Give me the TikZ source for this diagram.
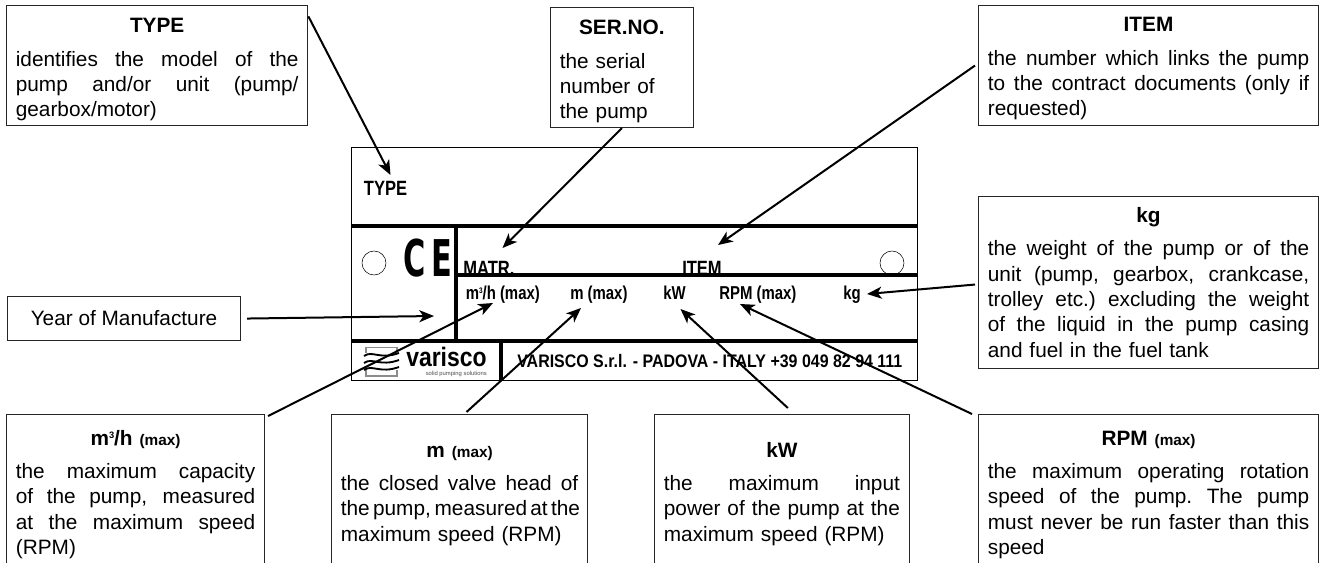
\documentclass[tikz,border=0pt]{standalone}
\usepackage{fontspec}
\setmainfont{Liberation Sans}
\newfontfamily\platefont[FakeStretch=0.8]{Liberation Sans}
\newfontfamily\footfont[FakeStretch=0.88]{Liberation Sans}
\newfontfamily\markfont{DejaVu Sans}
\usetikzlibrary{arrows.meta,positioning}
\tikzset{
  callout/.style={draw=black!85,line width=0.8pt,inner sep=0pt,inner xsep=7pt,text width=#1,align=left,
    font=\fontsize{15.6}{19}\selectfont,anchor=north west},
  pointer/.style={-{Stealth[length=11pt,width=9pt,inset=3pt]},line width=1.5pt},
  platerule/.style={line width=2.4pt},
  platelabel/.style={font=\platefont\bfseries\fontsize{14}{16}\selectfont,inner sep=0pt},
  bigplatelabel/.style={font=\platefont\bfseries\fontsize{15.5}{17}\selectfont,inner sep=0pt},
}
\newcommand{\boxtitle}[2][0pt]{\hbox to\hsize{\vrule height#1 width0pt\hfil\bfseries #2\hfil}\par\vspace{6pt}}
\newcommand{\fl}[1]{\hbox to\hsize{\spaceskip=.278em plus 2em minus .12em\xspaceskip=\spaceskip #1}\par}
\newcommand{\maxmark}{{\fontsize{11.5}{13}\selectfont\ (max)}}
\begin{document}
\begin{tikzpicture}[x=0.75pt,y=-0.75pt,line cap=butt,line join=miter]
  \clip (0,0) rectangle (1325,562);
  % rating plate
  \draw[line width=0.7pt] (351,147) rectangle (917,380);
  \draw (374,263) circle (12);
  \draw (892,263) circle (12);
  \draw[platerule] (351,226) -- (917,226);
  \draw[platerule] (456,275) -- (917,275);
  \draw[platerule] (351,341) -- (917,341);
  \draw[platerule] (456,226) -- (456,341);
  \draw[platerule] (501,341) -- (501,380);
  \node[font=\markfont\bfseries\fontsize{38}{38}\selectfont,inner sep=0pt] (ceMark) at (428,258.5) {\scalebox{.6}[1]{C\hspace{8pt}E}};
  \node[bigplatelabel] (lblType) at (385.5,188) {TYPE};
  \begin{scope}
    \clip (456,226) rectangle (917,274);
    \node[bigplatelabel,anchor=base west] (lblMatr) at (463,275) {MATR.};
    \node[bigplatelabel,anchor=base west] (lblItem) at (682,275) {ITEM};
  \end{scope}
  \node[platelabel,anchor=base west] (lblFlow) at (465.5,299) {m\raisebox{4pt}{\fontsize{6}{7}\selectfont 3}/h (max)};
  \node[platelabel,anchor=base west] (lblHead) at (570,299) {m (max)};
  \node[platelabel,anchor=base west] (lblPower) at (663,299) {kW};
  \node[platelabel,anchor=base west] (lblSpeed) at (719,299) {RPM (max)};
  \node[platelabel,anchor=base west] (lblWeight) at (843,299) {kg};
  \node[font=\footfont\bfseries\fontsize{13.6}{15}\selectfont,inner sep=0pt,anchor=base west] (lblMaker) at (517,367) {VARISCO S.r.l. - PADOVA - ITALY +39 049 82 94 111};
  % logo
  \draw[black!45,line width=1.4pt] (366,347.5) rectangle (397,376);
  \fill[white] (363,353) rectangle (400,370);
  \foreach \wavey in {354,361,368}
    \draw[line width=1.4pt] (364,\wavey+2) .. controls (372,\wavey-4) and (380,\wavey+6) .. (399,\wavey-1);
  \node[font=\bfseries\fontsize{20}{21}\selectfont,inner sep=0pt,anchor=base west] (logoName) at (406,366.5) {\scalebox{.86}[1]{varisco}};
  \node[font=\fontsize{4.4}{5}\selectfont,inner sep=0pt,anchor=base east,black!70] (logoClaim) at (487,375) {solid pumping solutions};
  % boxes
  \node[callout=212pt,minimum height=90pt] (boxType) at (6,5)
    {\boxtitle[17pt]{TYPE}\fl{identifies the model of the}\fl{pump and/or unit (pump/}gearbox/motor)};
  \node[callout=93pt,minimum height=90pt] (boxSerial) at (550,7)
    {\boxtitle[17pt]{SER.NO.}the serial\\ number of\\ the pump};
  \node[callout=241pt,minimum height=90pt] (boxItem) at (978,5)
    {\boxtitle[15.5pt]{ITEM}\fl{the number which links the pump}\fl{to the contract documents (only if}requested)};
  \node[callout=241pt,minimum height=129pt] (boxWeight) at (978,196)
    {\boxtitle{kg}\fl{the weight of the pump or of the}\fl{unit (pump, gearbox, crankcase,}\fl{trolley etc.) excluding the weight}\fl{of the liquid in the pump casing}and fuel in the fuel tank};
  \node[draw=black!85,line width=0.8pt,font=\fontsize{15.6}{19}\selectfont,inner sep=0pt,minimum width=174.75pt,minimum height=33pt,anchor=north west] (boxYear) at (7,296) {Year of Manufacture};
  \node[callout=179.5pt,minimum height=117pt] (boxFlow) at (6,414)
    {\boxtitle[14pt]{m\raisebox{5pt}{\fontsize{7}{8}\selectfont 3}/h\maxmark}\fl{the maximum capacity}\fl{of the pump, measured}\fl{at the maximum speed}(RPM)};
  \node[callout=178pt,minimum height=117pt] (boxHead) at (331,414)
    {\boxtitle[13pt]{m\maxmark}\fl{the closed valve head of}\fl{the pump, measured at the}maximum speed (RPM)};
  \node[callout=177pt,minimum height=117pt] (boxPower) at (654,414)
    {\boxtitle[13pt]{kW}\fl{the maximum input}\fl{power of the pump at the}maximum speed (RPM)};
  \node[callout=241pt,minimum height=117pt] (boxSpeed) at (978,414)
    {\boxtitle[14pt]{RPM\maxmark}\fl{the maximum operating rotation}\fl{speed of the pump. The pump}\fl{must never be run faster than this}speed};
  % pointers
  \coordinate (tipType) at (390.5,175);
  \coordinate (tipMatr) at (502.5,248);
  \coordinate (tipItem) at (718,245);
  \coordinate (tipYear) at (434,316);
  \coordinate (tipWeight) at (867,294);
  \coordinate (tipFlow) at (493,303);
  \coordinate (tipHead) at (581,308);
  \coordinate (tipPower) at (680.5,309);
  \coordinate (tipSpeed) at (740,304);
  \draw[pointer] (boxType.18) -- (tipType);
  \draw[pointer] (boxSerial.south) -- (tipMatr);
  \draw[pointer] (boxItem.west) ++(-3,0) -- (tipItem);
  \draw[pointer] (boxYear.east) ++(6,0) -- (tipYear);
  \draw[pointer] (boxWeight.west) ++(-3,2) -- (tipWeight);
  \draw[pointer] (boxFlow.north east) ++(3,2) -- (tipFlow);
  \draw[pointer] (boxHead.north) ++(7,-2) -- (tipHead);
  \draw[pointer] (boxPower.north) ++(6,-6) -- (tipPower);
  \draw[pointer] (boxSpeed.north west) ++(-6,0) -- (tipSpeed);
\end{tikzpicture}
\end{document}
